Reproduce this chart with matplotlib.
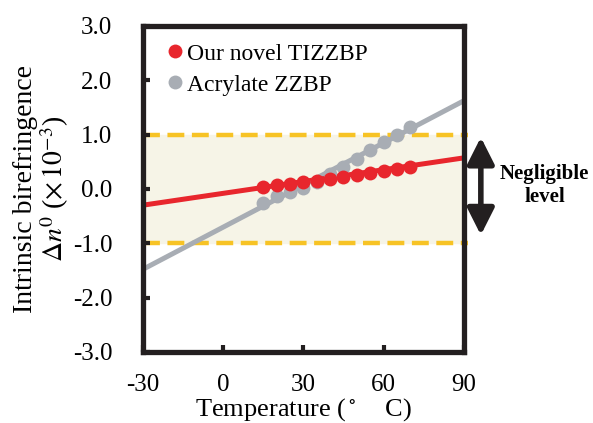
import numpy as np
import matplotlib
matplotlib.use('Agg')
import matplotlib.pyplot as plt

plt.rcParams['font.family'] = ['Liberation Serif', 'DejaVu Serif']
plt.rcParams['mathtext.fontset'] = 'stix'

# data
temps = [15, 20, 25, 30, 35, 40, 45, 50, 55, 60, 65, 70]
tizzbp = [0.04, 0.07, 0.09, 0.13, 0.15, 0.18, 0.21, 0.25, 0.30, 0.33, 0.37, 0.41]
zzbp = [-0.26, -0.14, -0.06, 0.02, 0.12, 0.27, 0.40, 0.55, 0.71, 0.86, 1.00, 1.14]

# fitted trend lines (end points)
fit_x = [-30, 90]
tizzbp_fit = [-0.30, 0.57]
zzbp_fit = [-1.48, 1.62]

band = [-1.0, 1.0]
xticks = [-30, 0, 30, 60, 90]
yticks = [-3.0, -2.0, -1.0, 0.0, 1.0, 2.0, 3.0]

red = '#e8262d'
gray = '#a8adb4'
yellow = '#f7c325'
black = '#231f20'

fig = plt.figure(figsize=(5.93, 4.23), dpi=100)
ax = fig.add_axes([0.241, 0.168, 0.541, 0.771])

# negligible band
ax.axhspan(band[0], band[1], color='#f6f4e7', zorder=0)
for yv in band:
    ax.plot([-30, 91.5], [yv, yv], color=yellow, lw=3.2, dashes=(3.8, 1.7),
            zorder=1, clip_on=False)

ax.plot(fit_x, zzbp_fit, color=gray, lw=3.6, zorder=2, solid_capstyle='butt')
ax.plot(fit_x, tizzbp_fit, color=red, lw=3.6, zorder=2, solid_capstyle='butt')
ax.plot(temps, zzbp, 'o', color=gray, ms=10, mec='none', zorder=3,
        label='Acrylate ZZBP')
ax.plot(temps, tizzbp, 'o', color=red, ms=10, mec='none', zorder=4,
        label='Our novel TIZZBP')

ax.set_xlim(-30, 90)
ax.set_ylim(-3, 3)
ax.set_xticks(xticks)
ax.set_yticks(yticks)
ax.set_xticklabels([str(t) for t in xticks])
ax.set_yticklabels(['%.1f' % t for t in yticks])
ax.tick_params(direction='in', length=5, width=3, color=black, labelsize=18)
ax.tick_params(axis='x', pad=16)
ax.tick_params(axis='y', pad=22)

for s in ax.spines.values():
    s.set_linewidth(3.8)
    s.set_color(black)
    s.set_capstyle('projecting')

ax.set_xlabel(r'Temperature ($^\circ$    C)', fontsize=19, labelpad=0)
ax.set_ylabel('Intrinsic birefringence\n' + r'$\Delta n^0$ ($\times\,10^{-3}$)',
              fontsize=20, labelpad=1, linespacing=1.02)

handles, labels = ax.get_legend_handles_labels()
leg = ax.legend(handles[::-1], labels[::-1], loc='upper left', fontsize=17,
                frameon=False, handlelength=0.6, handletextpad=0.2,
                labelspacing=0.4, borderaxespad=0.2,
                bbox_to_anchor=(0.035, 0.99))

# negligible level arrow
ax.annotate('', xy=(96.4, 0.95), xytext=(96.4, -0.85), xycoords='data',
            annotation_clip=False,
            arrowprops=dict(arrowstyle='<|-|>,head_length=1.15,head_width=0.58',
                            mutation_scale=14, lw=4, color=black,
                            shrinkA=0, shrinkB=0))
ax.text(120.3, 0.07, 'Negligible\nlevel', ha='center', va='center',
        fontsize=15, fontweight='bold', linespacing=1.2, clip_on=False)

fig.savefig('out.png', dpi=100)
